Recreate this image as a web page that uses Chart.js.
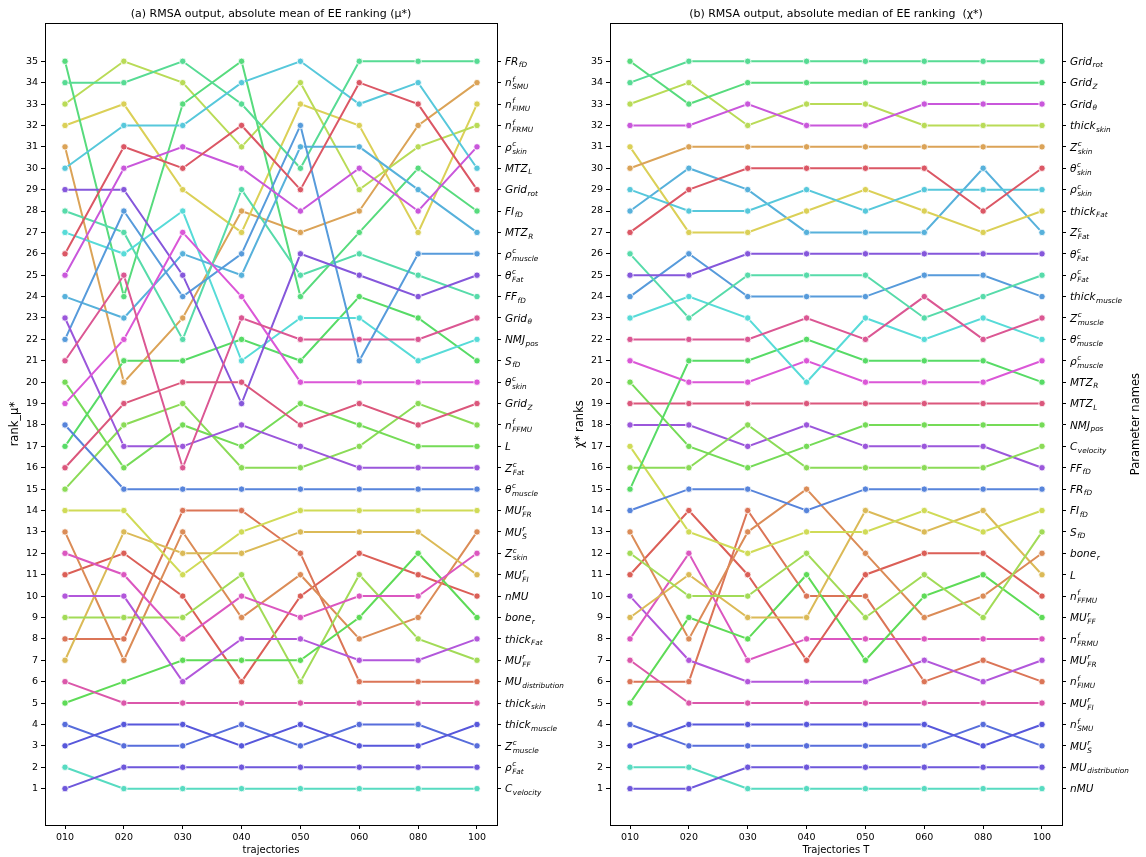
<!DOCTYPE html>
<html>
<head>
<meta charset="utf-8">
<script src="https://cdn.jsdelivr.net/npm/chart.js@4"></script>
<style>
  html, body { margin: 0; padding: 0; background: #fff; }
  #wrap { position: relative; width: 1146px; height: 857px; }
  .panel { position: absolute; top: 0; width: 573px; height: 857px; }
</style>
</head>
<body>
<div id="wrap">
  <div class="panel" style="left:0"><canvas id="meanChart" width="573" height="857"></canvas></div>
  <div class="panel" style="left:573px"><canvas id="medianChart" width="573" height="857"></canvas></div>
</div>
<script>
const trajectories = ['010', '020', '030', '040', '050', '060', '080', '100'];

// parameter names, mathtext-like markup: base^{sup}_{sub}
const paramNames = [
  'Grid_{rot}', 'Grid_{Z}', 'Grid_{θ}', 'thick_{skin}', 'Z^{c}_{skin}', 'θ^{c}_{skin}', 'ρ^{c}_{skin}',
  'thick_{Fat}', 'Z^{c}_{Fat}', 'θ^{c}_{Fat}', 'ρ^{c}_{Fat}', 'thick_{muscle}', 'Z^{c}_{muscle}',
  'θ^{c}_{muscle}', 'ρ^{c}_{muscle}', 'MTZ_{R}', 'MTZ_{L}', 'NMJ_{pos}', 'C_{velocity}', 'FF_{fD}',
  'FR_{fD}', 'FI_{fD}', 'S_{fD}', 'bone_{r}', 'L', 'n^{f}_{FFMU}', 'MU^{r}_{FF}', 'n^{f}_{FRMU}',
  'MU^{r}_{FR}', 'n^{f}_{FIMU}', 'MU^{r}_{FI}', 'n^{f}_{SMU}', 'MU^{r}_{S}', 'MU_{distribution}', 'nMU'
];

// (a) rank of mu* per trajectory count, same order as paramNames
const meanRanks = [
  [26, 31, 30, 32, 29, 34, 33, 29],
  [16, 19, 20, 20, 18, 19, 18, 19],
  [21, 25, 16, 23, 22, 22, 22, 23],
  [6, 5, 5, 5, 5, 5, 5, 5],
  [12, 11, 8, 10, 9, 10, 10, 12],
  [19, 22, 27, 24, 20, 20, 20, 20],
  [25, 30, 31, 30, 28, 30, 28, 31],
  [10, 10, 6, 8, 8, 7, 7, 8],
  [23, 17, 17, 18, 17, 16, 16, 16],
  [29, 29, 25, 19, 26, 25, 24, 25],
  [1, 2, 2, 2, 2, 2, 2, 2],
  [3, 4, 4, 3, 4, 3, 3, 4],
  [4, 3, 3, 4, 3, 4, 4, 3],
  [18, 15, 15, 15, 15, 15, 15, 15],
  [22, 28, 24, 26, 32, 21, 26, 26],
  [24, 23, 26, 25, 31, 31, 29, 27],
  [30, 32, 32, 34, 35, 33, 34, 30],
  [27, 26, 28, 21, 23, 23, 21, 22],
  [2, 1, 1, 1, 1, 1, 1, 1],
  [28, 27, 22, 29, 25, 26, 25, 24],
  [34, 34, 35, 33, 30, 35, 35, 35],
  [35, 24, 33, 35, 24, 27, 30, 28],
  [17, 21, 21, 22, 21, 24, 23, 21],
  [5, 6, 7, 7, 7, 9, 12, 9],
  [20, 16, 18, 17, 19, 18, 17, 17],
  [15, 18, 19, 16, 16, 17, 19, 18],
  [9, 9, 9, 11, 6, 11, 8, 7],
  [33, 35, 34, 31, 34, 29, 31, 32],
  [14, 14, 11, 13, 14, 14, 14, 14],
  [32, 33, 29, 27, 33, 32, 27, 33],
  [7, 13, 12, 12, 13, 13, 13, 11],
  [31, 20, 23, 28, 27, 28, 32, 34],
  [13, 7, 13, 9, 11, 8, 9, 13],
  [8, 8, 14, 14, 12, 6, 6, 6],
  [11, 12, 10, 6, 10, 12, 11, 10]
];

// (b) rank of chi* per trajectory count
const medianRanks = [
  [34, 35, 35, 35, 35, 35, 35, 35],
  [35, 33, 34, 34, 34, 34, 34, 34],
  [32, 32, 33, 32, 32, 33, 33, 33],
  [33, 34, 32, 33, 33, 32, 32, 32],
  [30, 31, 31, 31, 31, 31, 31, 31],
  [27, 29, 30, 30, 30, 30, 28, 30],
  [29, 28, 28, 29, 28, 29, 29, 29],
  [31, 27, 27, 28, 29, 28, 27, 28],
  [28, 30, 29, 27, 27, 27, 30, 27],
  [25, 25, 26, 26, 26, 26, 26, 26],
  [26, 23, 25, 25, 25, 23, 24, 25],
  [24, 26, 24, 24, 24, 25, 25, 24],
  [22, 22, 22, 23, 22, 24, 22, 23],
  [23, 24, 23, 20, 23, 22, 23, 22],
  [21, 20, 20, 21, 20, 20, 20, 21],
  [15, 21, 21, 22, 21, 21, 21, 20],
  [19, 19, 19, 19, 19, 19, 19, 19],
  [20, 17, 16, 17, 18, 18, 18, 18],
  [16, 16, 18, 16, 16, 16, 16, 17],
  [18, 18, 17, 18, 17, 17, 17, 16],
  [14, 15, 15, 14, 15, 15, 15, 15],
  [17, 13, 12, 13, 13, 14, 13, 14],
  [12, 10, 10, 12, 9, 11, 9, 13],
  [13, 8, 13, 15, 12, 9, 10, 12],
  [9, 11, 9, 9, 14, 13, 14, 11],
  [11, 14, 11, 7, 11, 12, 12, 10],
  [5, 9, 8, 11, 7, 10, 11, 9],
  [8, 12, 7, 8, 8, 8, 8, 8],
  [10, 7, 6, 6, 6, 7, 6, 7],
  [6, 6, 14, 10, 10, 6, 7, 6],
  [7, 5, 5, 5, 5, 5, 5, 5],
  [3, 4, 4, 4, 4, 4, 3, 4],
  [4, 3, 3, 3, 3, 3, 4, 3],
  [1, 1, 2, 2, 2, 2, 2, 2],
  [2, 2, 1, 1, 1, 1, 1, 1]
];

// palette slot (0..34 of a 35-colour hls palette) for each parameter
const meanHues = [34, 33, 32, 31, 30, 29, 28, 27, 26, 25, 24, 23, 22, 21, 20, 19, 18, 17, 16, 15,
                  14, 13, 12, 11, 10, 9, 8, 7, 6, 5, 4, 3, 2, 1, 0];
const medianHues = [14, 13, 28, 7, 3, 34, 18, 5, 19, 25, 15, 20, 32, 17, 29, 12, 33, 10, 9, 26,
                    21, 6, 8, 2, 4, 0, 11, 30, 27, 1, 31, 23, 22, 24, 16];

const FONT = '"DejaVu Sans", "Liberation Sans", sans-serif';

// seaborn-style hls palette colour
function hlsColor(k, n = 35) {
  const h = (k / n + 0.01) % 1;
  const l = 0.6, s = 0.65;
  const q = l + s - l * s;
  const p = 2 * l - q;
  const f = t => {
    t = (t + 1) % 1;
    if (t < 1 / 6) return p + (q - p) * 6 * t;
    if (t < 0.5) return q;
    if (t < 2 / 3) return p + (q - p) * (2 / 3 - t) * 6;
    return p;
  };
  const rgb = [f(h + 1 / 3), f(h), f(h - 1 / 3)].map(v => Math.round(v * 255));
  return `rgb(${rgb.join(',')})`;
}

// draws base^{sup}_{sub} in italic, left aligned, vertically centred on y
function drawMath(ctx, text, x, y) {
  const m = text.match(/^([^_^]*)(?:\^\{([^}]*)\})?(?:_\{([^}]*)\})?$/);
  const base = m[1], sup = m[2], sub = m[3];
  const by = y + 3.8;
  ctx.fillStyle = '#000';
  ctx.textAlign = 'left';
  ctx.textBaseline = 'alphabetic';
  ctx.font = 'italic 10.5px ' + FONT;
  ctx.fillText(base, x, by);
  const cx = x + ctx.measureText(base).width + 0.5;
  ctx.font = 'italic 7.3px ' + FONT;
  if (sup) ctx.fillText(sup, cx, by - 4.6);
  if (sub) ctx.fillText(sub, cx, by + (sup ? 3 : 2.4));
}

const rankLabels = {
  id: 'rankLabels',
  afterDraw(chart, args, opts) {
    const { ctx, chartArea } = chart;
    const y = chart.scales.y;
    ctx.save();
    // top spine
    ctx.strokeStyle = '#000';
    ctx.lineWidth = 1;
    ctx.beginPath();
    ctx.moveTo(chartArea.left, Math.round(chartArea.top) + 0.5);
    ctx.lineTo(chartArea.right, Math.round(chartArea.top) + 0.5);
    ctx.stroke();
    // parameter names at their final rank
    opts.ranks.forEach((row, i) => {
      drawMath(ctx, paramNames[i], chartArea.right + 8, y.getPixelForValue(row[row.length - 1]));
    });
    if (opts.sideTitle) {
      ctx.translate(chart.width - 10, (chartArea.top + chartArea.bottom) / 2);
      ctx.rotate(-Math.PI / 2);
      ctx.font = '11.5px ' + FONT;
      ctx.textAlign = 'center';
      ctx.textBaseline = 'middle';
      ctx.fillText(opts.sideTitle, 0, 0);
    }
    ctx.restore();
  }
};

function rankTicks(s) {
  s.ticks = Array.from({ length: 35 }, (_, i) => ({ value: i + 1 }));
}

function rankChart(canvasId, ranks, hues, cfg) {
  const datasets = paramNames.map((name, i) => {
    const color = hlsColor(hues[i]);
    return {
      label: name,
      data: ranks[i].map((v, j) => ({ x: j, y: v })),
      borderColor: color,
      backgroundColor: color,
      pointBackgroundColor: color,
      pointBorderColor: '#fff',
      pointBorderWidth: 0.8,
      pointRadius: 3.2,
      borderWidth: 2
    };
  });
  const tickFont = { family: FONT, size: 9.5 };
  return new Chart(document.getElementById(canvasId), {
    type: 'line',
    data: { datasets },
    options: {
      responsive: false,
      animation: false,
      events: [],
      plugins: {
        legend: { display: false },
        tooltip: { enabled: false },
        title: {
          display: true,
          text: cfg.title,
          fullSize: false,
          color: '#000',
          font: { family: FONT, size: 11, weight: 'normal' },
          padding: { top: 8, bottom: 2 }
        },
        rankLabels: { ranks, sideTitle: cfg.sideTitle }
      },
      scales: {
        x: {
          type: 'linear',
          min: -0.34,
          max: 7.34,
          afterBuildTicks: s => { s.ticks = trajectories.map((_, i) => ({ value: i })); },
          afterFit: s => { s.height = 32; },
          ticks: { callback: v => trajectories[v], font: tickFont, color: '#000', padding: 3, maxRotation: 0, autoSkip: false },
          grid: { drawOnChartArea: false, tickLength: 4, color: '#000' },
          border: { color: '#000', width: 1 },
          title: { display: true, text: cfg.xTitle, color: '#000', font: { family: FONT, size: 10 }, padding: { top: 0, bottom: 1 } }
        },
        y: {
          type: 'linear',
          position: 'left',
          min: -0.7,
          max: 36.78,
          afterBuildTicks: rankTicks,
          afterFit: s => { s.width = cfg.leftWidth; },
          ticks: { font: tickFont, color: '#000', padding: 3, autoSkip: false },
          grid: { drawOnChartArea: false, tickLength: 4, color: '#000' },
          border: { color: '#000', width: 1 },
          title: { display: true, text: cfg.yTitle, color: '#000', font: { family: FONT, size: 11.5 }, padding: { top: cfg.yTitlePad, bottom: 0 } }
        },
        y2: {
          type: 'linear',
          position: 'right',
          min: -0.7,
          max: 36.78,
          afterBuildTicks: rankTicks,
          afterFit: s => { s.width = cfg.rightWidth; },
          ticks: { callback: () => '', autoSkip: false },
          grid: { drawOnChartArea: false, tickLength: 4, color: '#000' },
          border: { color: '#000', width: 1 }
        }
      }
    },
    plugins: [rankLabels]
  });
}

rankChart('meanChart', meanRanks, meanHues, {
  title: '(a) RMSA output, absolute mean of EE ranking (μ*)',
  xTitle: 'trajectories',
  yTitle: 'rank_μ*',
  yTitlePad: 8,
  leftWidth: 45,
  rightWidth: 76
});

rankChart('medianChart', medianRanks, medianHues, {
  title: '(b) RMSA output, absolute median of EE ranking  (χ*)',
  xTitle: 'Trajectories T',
  yTitle: 'χ* ranks',
  yTitlePad: 0,
  leftWidth: 37,
  rightWidth: 84,
  sideTitle: 'Parameter names'
});
</script>
</body>
</html>
